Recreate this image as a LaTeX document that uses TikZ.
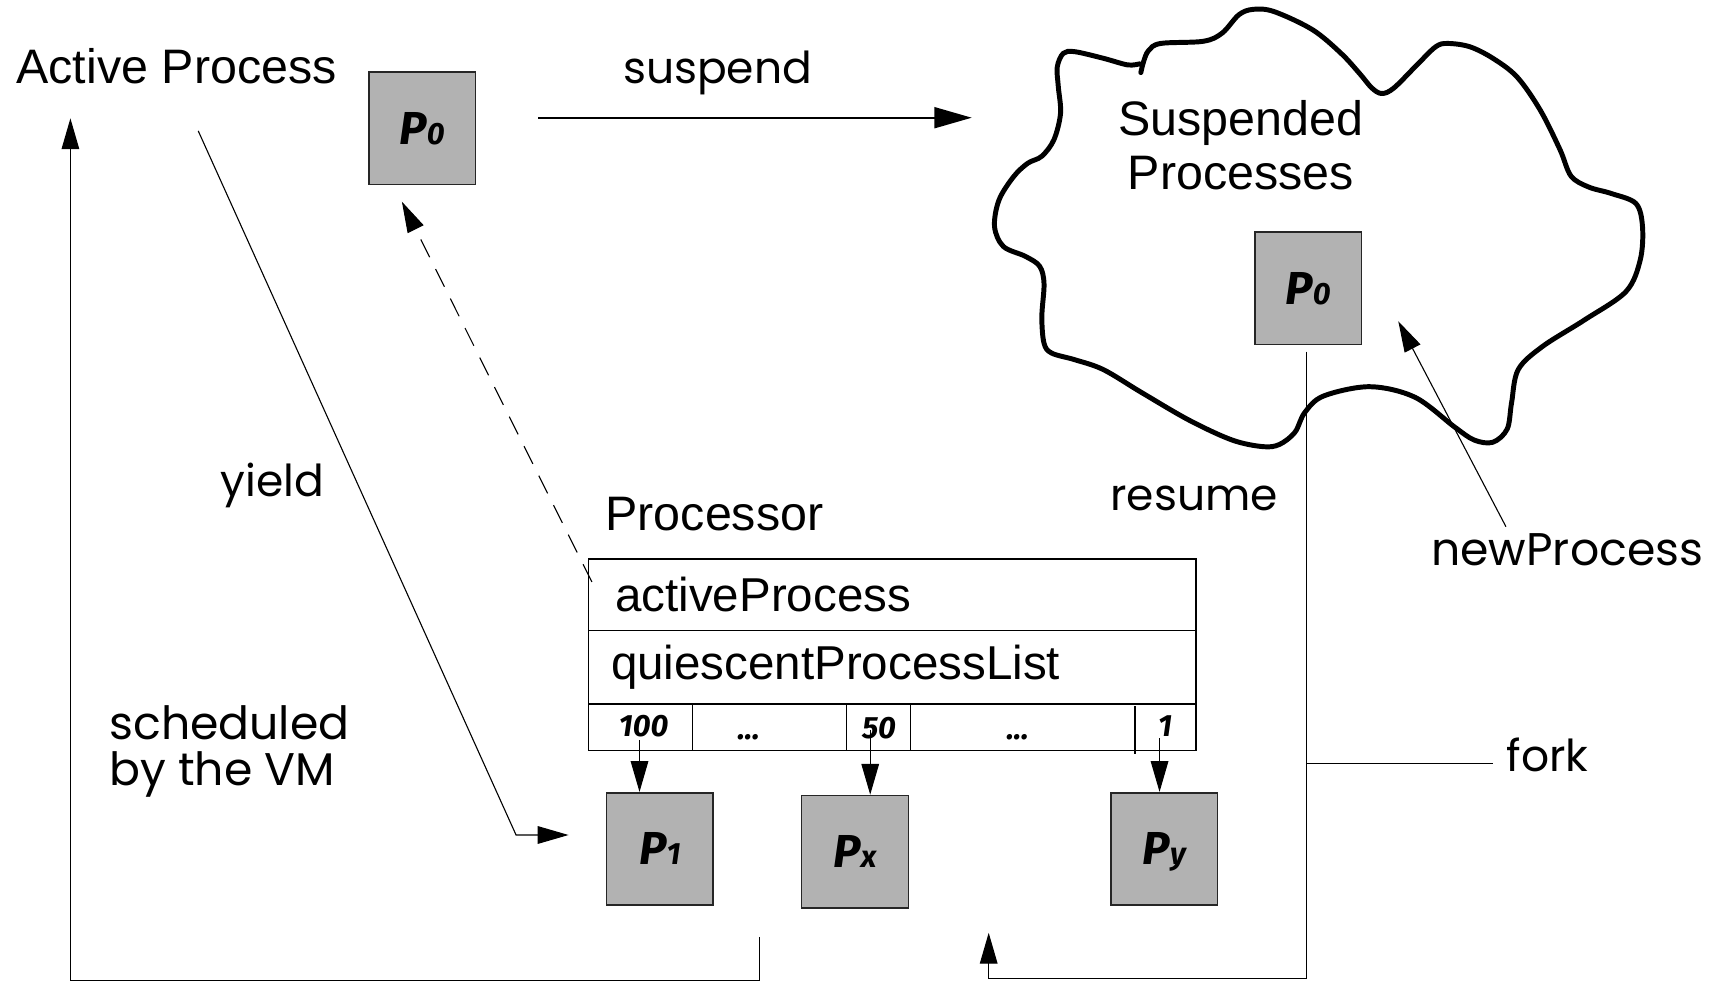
\documentclass[tikz,border=0pt]{standalone}
\usepackage{fontspec}
\setmainfont{Liberation Sans}
\newfontfamily\labelfont{Poppins}
\newfontfamily\procfont{Fira Sans}
\usetikzlibrary{arrows.meta}

% process name: large letter followed by a smaller index on the same baseline
\newcommand\procname[2]{{\fontsize{21}{21}\selectfont #1}{\fontsize{14}{14}\selectfont #2}}

\begin{document}
\begin{tikzpicture}[x=0.5pt,y=-0.5pt,
  hv/.style={font=\fontsize{22}{24.25}\selectfont, inner sep=0pt},
  field/.style={font=\fontsize{21.6}{24}\selectfont, inner sep=0pt},
  lbl/.style={font=\labelfont\fontsize{20}{21}\selectfont, inner sep=0pt},
  widelbl/.style={font=\labelfont\fontsize{20.8}{21}\selectfont, inner sep=0pt},
  proc/.style={draw=black!85, line width=0.75pt, fill=black!30,
    minimum width=48.5pt, minimum height=51pt, inner sep=0pt,
    text depth=0pt, font=\procfont\bfseries\itshape},
  slotnum/.style={font=\procfont\bfseries\itshape\fontsize{14}{14}\selectfont, inner sep=0pt},
  tblrow/.style={draw, line width=0.7pt, minimum width=276pt, inner sep=0pt},
  arr/.style={line width=0.5pt, -{Triangle[length=14pt,width=8pt]}},
  wire/.style={line width=0.5pt},
  tblline/.style={line width=0.7pt},
  cloudline/.style={line width=2.25pt, line join=round, line cap=round},
]

\useasboundingbox (0,0) rectangle (1568,893);

% ---- the pool of suspended processes
\draw[cloudline] plot[smooth, tension=0.55] coordinates {
  (1037,66) (1039.5,56) (1044,46) (1055,39.5) (1094,37.5) (1111,30)
  (1126,13.5) (1139,8.5) (1158,10.5) (1193,27) (1219,48.5) (1236,67)
  (1247,80) (1256,85) (1267,80) (1288,59) (1305,42.5) (1316,39.5)
  (1336,42.5) (1357,53) (1379,70) (1400,100) (1418,136) (1428,160)
  (1444,170) (1465,176) (1487,185) (1493,206) (1491,236) (1478,265)
  (1440,291) (1402,315) (1380,336) (1374,366) (1370,390) (1357,402)
  (1340,400) (1322,388) (1286,361) (1245,351.5) (1203,360) (1186,375)
  (1177,393) (1163,404) (1148,406) (1120,400) (1081,382) (1038,357)
  (1003,336) (977,327) (956,321) (949,312) (947,288) (949,258)
  (945,242) (932,233) (912,224) (904,206) (908,182) (921,161)
  (934,148.5) (947,142) (958,127) (964,103) (962,79) (961,61)
  (966.5,48.5) (977,47) (1003,53) (1025,59) (1036,58)};

% ---- processes
\node[proc] (p0a) at (383.7,116.7) {\procname{P}{0}};
\node[proc] (p0s) at (1189,262) {\procname{P}{0}};
\node[proc] (p1) at (599.8,771.6) {\procname{P}{1}};
\node[proc] (px) at (777.2,774.1) {\procname{P}{x}};
\node[proc] (py) at (1058.2,771.6) {\procname{P}{y}};

% ---- processor object
\node[tblrow, minimum height=32.5pt] (rowA) at (811,540.5) {};
\node[tblrow, minimum height=33.5pt] (rowB) at (811,606.5) {};
\node[tblrow, minimum height=21pt] (rowC) at (811,661) {};
\draw[tblline] (629.4,640) -- (629.4,682);
\draw[tblline] (769.3,640) -- (769.3,682);
\draw[tblline] (827.7,640) -- (827.7,682);
\draw[tblline] (1031.5,642) -- (1031.5,685);

\node[slotnum, anchor=base] (s100) at (585,669.5) {100};
\node[slotnum, anchor=base] (sdotsA) at (680.5,672) {...};
\node[slotnum, anchor=base] (s50) at (799,671) {50};
\node[slotnum, anchor=base] (sdotsB) at (925,672) {...};
\node[slotnum, anchor=base] (s1) at (1059,669.5) {1};

% ---- texts
\node[hv, anchor=base west] (activeLbl) at (14.6,75.8) {Active Process};
\node[hv, anchor=south, align=center] (suspLbl) at (1128,172.7) {Suspended\\Processes};
\node[hv, anchor=base west] (procLbl) at (550,481.8) {Processor};
\node[field, anchor=base west] (apField) at (558.8,556) {activeProcess};
\node[field, anchor=base west] (qplField) at (555,618) {quiescentProcessList};

\node[lbl, anchor=base west] (lSuspend) at (566,75.8) {suspend};
\node[lbl, anchor=base west] (lYield) at (200,451.5) {yield};
\node[lbl, anchor=base west] (lResume) at (1009,463.6) {resume};
\node[widelbl, anchor=base west] (lNew) at (1300.6,513.6) {newProcess};
\node[lbl, anchor=base west] (lFork) at (1369,701.5) {fork};
\node[widelbl, anchor=north west, align=left] (lSched) at (99,641) {scheduled\\by the VM};

% ---- quiescent list entries point to their processes
\coordinate (q100) at (581.3,672.8);
\coordinate (q50) at (791,663.7);
\coordinate (q1) at (1054,671.2);
\draw[arr] (q100) -- (q100 |- p1.north);
\draw[arr] (q50) -- (q50 |- px.north);
\draw[arr] (q1) -- (q1 |- py.north);

% ---- suspend
\coordinate (susFrom) at (489.3,107);
\coordinate (susTo) at (883.3,107);
\draw[line width=1pt, -{Triangle[length=17pt,width=9.5pt]}] (susFrom) -- (susTo);

% ---- yield
\coordinate (yFrom) at (180.2,119);
\coordinate (yBend) at (469.1,759);
\coordinate (yTo) at (516.8,759);
\draw[arr] (yFrom) -- (yBend) -- (yTo);

% ---- activeProcess refers to the running process
\coordinate (apRef) at (538,529);
\coordinate (apTip) at (365.3,183.3);
\draw[arr, dash pattern=on 9pt off 6pt] (apRef) -- (apTip);

% ---- scheduled by the VM
\coordinate (schFrom) at (690.5,851.5);
\coordinate (schCorner) at (64,891.5);
\coordinate (schTo) at (64,107.6);
\draw[arr] (schFrom) |- (schCorner) -- (schTo);

% ---- resume
\coordinate (rsFrom) at (1187.2,319.7);
\coordinate (rsCorner) at (898.7,889.5);
\coordinate (rsTo) at (898.7,847.9);
\draw[arr] (rsFrom) |- (rsCorner) -- (rsTo);

% ---- fork
\coordinate (fkFrom) at (1187.2,693.9);
\coordinate (fkTo) at (1357.2,693.9);
\draw[wire] (fkFrom) -- (fkTo);

% ---- newProcess
\coordinate (npFrom) at (1368.9,478.8);
\coordinate (npTo) at (1271,292);
\draw[arr] (npFrom) -- (npTo);

\end{tikzpicture}
\end{document}
